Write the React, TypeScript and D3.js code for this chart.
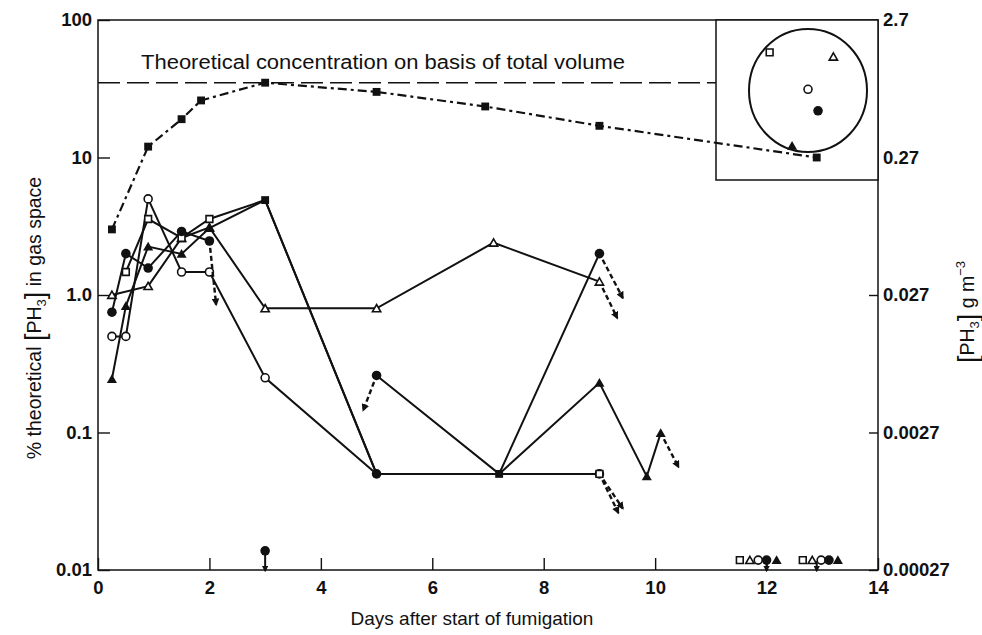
import React, { useEffect, useRef } from 'react'
import * as d3 from 'd3'

// axes
const xTicks = [0, 2, 4, 6, 8, 10, 12, 14]
const leftTicks = [0.01, 0.1, 1, 10, 100]
const leftLabels = ['0.01', '0.1', '1.0', '10', '100']
const rightTicks = [0.00027, 0.0027, 0.027, 0.27, 2.7]
const rightLabels = ['0.00027', '0.0027', '0.027', '0.27', '2.7']

const theoretical = 35

// dash-dot reference series (filled squares)
const refDays = [0.25, 0.9, 1.5, 1.85, 3.0, 5.0, 6.95, 9.0, 12.9]
const refValues = [3.0, 12, 19, 26, 35, 30, 23.5, 17, 10]

// sampling points (solid lines), null = break
const openCircleDays = [0.25, 0.5, 0.9, 1.5, 2.0, 3.0, 5.0, 7.2, 9.0]
const openCircleValues = [0.5, 0.5, 5.0, 1.47, 1.47, 0.25, 0.05, 0.05, 0.05]

const openTriangleDays = [0.25, 0.9, 1.5, 2.0, 3.0, 5.0, 7.1, 9.0]
const openTriangleValues = [1.0, 1.16, 2.6, 3.1, 0.8, 0.8, 2.4, 1.25]

const openSquareDays = [0.5, 0.9, 1.5, 2.0, 3.0, 5.0, 7.2, 9.0]
const openSquareValues = [1.47, 3.57, 2.6, 3.57, 4.9, 0.05, 0.05, 0.05]

const filledCircleDays = [0.25, 0.5, 0.9, 1.5, 2.0, 3.0, 5.0, 7.2, 9.0]
const filledCircleValues = [0.75, 2.0, 1.57, 2.9, 2.47, null, 0.26, 0.05, 2.0]

const filledTriangleDays = [0.25, 0.5, 0.9, 1.5, 2.0, 3.0, 5.0, 7.2, 9.0, 9.85, 10.1]
const filledTriangleValues = [0.245, 0.83, 2.25, 1.99, 3.07, 4.9, 0.05, 0.05, 0.23, 0.048, 0.099]

// coincident points drawn with a single marker
const coincidentDays = [3.0, 5.0, 7.2]
const coincidentValues = [4.9, 0.05, 0.05]
const coincidentShapes = ['filledSquare', 'filledCircle', 'filledSquare']

// dashed arrows (fall below detection)
const arrowFromDays = [2.0, 5.0, 9.0, 9.0, 10.1, 9.0, 9.0]
const arrowFromValues = [2.47, 0.26, 2.0, 1.25, 0.099, 0.05, 0.05]
const arrowToDays = [2.12, 4.76, 9.42, 9.32, 10.42, 9.42, 9.34]
const arrowToValues = [0.85, 0.145, 0.95, 0.68, 0.056, 0.028, 0.026]

// below-detection markers along the bottom
const bdShapes = ['openSquare', 'openTriangle', 'openCircle', 'filledCircle', 'filledTriangle', 'openSquare', 'openTriangle', 'openCircle', 'filledCircle', 'filledTriangle', 'filledCircle']
const bdDays = [11.52, 11.7, 11.85, 12.0, 12.18, 12.65, 12.82, 12.98, 13.12, 13.28, 3.0]
const bdValues = [0.0118, 0.0118, 0.0118, 0.0118, 0.0118, 0.0118, 0.0118, 0.0118, 0.0118, 0.0118, 0.0138]
const bdArrowDays = [3.0, 12.0, 12.9]
const bdArrowValues = [0.0134, 0.0116, 0.0116]

// inset: sampling positions in the cross-section (unit circle, y up)
const insetShapes = ['openSquare', 'openTriangle', 'openCircle', 'filledCircle', 'filledTriangle']
const insetX = [-0.65, 0.43, 0.0, 0.17, -0.27]
const insetY = [0.62, 0.55, 0.02, -0.33, -0.9]

const W = 982
const H = 635
const margin = { top: 20, right: 104, bottom: 65, left: 98 }
const font = '"Liberation Sans", Arial, Helvetica, sans-serif'

function drawMarker(g, shape, cx, cy) {
  const filled = shape.startsWith('filled')
  let type = d3.symbolCircle
  let size = 60
  if (shape.endsWith('Square')) { type = d3.symbolSquare; size = filled ? 62 : 46 }
  if (shape.endsWith('Triangle')) { type = d3.symbolTriangle; size = filled ? 44 : 30 }
  if (shape.endsWith('Circle')) { size = filled ? 72 : 50 }
  g.append('path')
    .attr('d', d3.symbol().type(type).size(size)())
    .attr('transform', `translate(${cx},${cy + (shape.endsWith('Triangle') ? 1 : 0)})`)
    .attr('fill', filled ? '#111' : '#fff')
    .attr('stroke', '#111')
    .attr('stroke-width', filled ? 0 : 1.6)
}

function App() {
  const ref = useRef(null)

  useEffect(() => {
    const svg = d3.select(ref.current)
    svg.selectAll('*').remove()

    const innerRight = W - margin.right
    const innerBottom = H - margin.bottom

    const x = d3.scaleLinear().domain([0, 14]).range([margin.left, innerRight])
    const y = d3.scaleLog().domain([0.01, 100]).range([innerBottom, margin.top])
    const yR = d3.scaleLog().domain([0.00027, 2.7]).range([innerBottom, margin.top])

    const defs = svg.append('defs')
    defs.append('marker')
      .attr('id', 'ah')
      .attr('viewBox', '0 0 10 10')
      .attr('refX', 8).attr('refY', 5)
      .attr('markerWidth', 3.2).attr('markerHeight', 3.2)
      .attr('orient', 'auto')
      .append('path').attr('d', 'M0,0 L10,5 L0,10 z').attr('fill', '#111')

    // frame
    svg.append('rect')
      .attr('x', margin.left).attr('y', margin.top)
      .attr('width', innerRight - margin.left).attr('height', innerBottom - margin.top)
      .attr('fill', 'none').attr('stroke', '#111').attr('stroke-width', 1.5)

    // axes
    const styleAxis = (sel) => {
      sel.select('.domain').remove()
      sel.selectAll('line').attr('stroke', '#111').attr('stroke-width', 1.4)
      sel.selectAll('text').attr('font-family', font).attr('font-size', 18.5).attr('font-weight', 'bold').attr('fill', '#111')
    }

    svg.append('g')
      .attr('transform', `translate(0,${innerBottom})`)
      .call(d3.axisBottom(x).tickValues(xTicks).tickSizeInner(-12).tickSizeOuter(0).tickPadding(11).tickFormat(d => String(d)))
      .call(styleAxis)

    svg.append('g')
      .attr('transform', `translate(${margin.left},0)`)
      .call(d3.axisLeft(y).tickValues(leftTicks).tickSizeInner(-12).tickSizeOuter(0).tickPadding(6)
        .tickFormat((d, i) => leftLabels[i]))
      .call(styleAxis)

    svg.append('g')
      .attr('transform', `translate(${innerRight},0)`)
      .call(d3.axisRight(yR).tickValues(rightTicks).tickSizeInner(-9).tickSizeOuter(0).tickPadding(5)
        .tickFormat((d, i) => rightLabels[i]))
      .call(styleAxis)

    // inset box
    const insetLeft = 716
    const insetBottom = 180
    svg.append('rect')
      .attr('x', insetLeft).attr('y', margin.top)
      .attr('width', innerRight - insetLeft).attr('height', insetBottom - margin.top)
      .attr('fill', '#fff').attr('stroke', '#111').attr('stroke-width', 1.5)

    // theoretical line
    svg.append('line')
      .attr('x1', margin.left).attr('x2', insetLeft)
      .attr('y1', y(theoretical)).attr('y2', y(theoretical))
      .attr('stroke', '#111').attr('stroke-width', 1.5).attr('stroke-dasharray', '22,7')

    svg.append('text')
      .attr('x', 141).attr('y', y(theoretical) - 14)
      .attr('textLength', 484).attr('lengthAdjust', 'spacingAndGlyphs')
      .attr('font-family', font).attr('font-size', 20).attr('fill', '#111')
      .text('Theoretical concentration on basis of total volume')

    // reference dash-dot series
    const line = d3.line()
      .defined(d => d[1] != null)
      .x(d => x(d[0]))
      .y(d => y(d[1]))

    const refPts = refDays.map((d, i) => [d, refValues[i]])
    svg.append('path')
      .attr('d', line(refPts))
      .attr('fill', 'none').attr('stroke', '#111').attr('stroke-width', 2.2)
      .attr('stroke-dasharray', '9,4,3,4')
    refPts.forEach(p => drawMarker(svg, 'filledSquare', x(p[0]), y(p[1])))

    const series = [
      { shape: 'openCircle', days: openCircleDays, values: openCircleValues },
      { shape: 'openTriangle', days: openTriangleDays, values: openTriangleValues },
      { shape: 'openSquare', days: openSquareDays, values: openSquareValues },
      { shape: 'filledCircle', days: filledCircleDays, values: filledCircleValues },
      { shape: 'filledTriangle', days: filledTriangleDays, values: filledTriangleValues },
    ]

    const isCoincident = (d, v) => coincidentDays.some((c, i) => c === d && coincidentValues[i] === v)

    series.forEach(s => {
      const pts = s.days.map((d, i) => [d, s.values[i]])
      svg.append('path')
        .attr('d', line(pts))
        .attr('fill', 'none').attr('stroke', '#111').attr('stroke-width', 2)
    })
    series.forEach(s => {
      s.days.forEach((d, i) => {
        const v = s.values[i]
        if (v != null && !isCoincident(d, v)) drawMarker(svg, s.shape, x(d), y(v))
      })
    })
    coincidentDays.forEach((d, i) => drawMarker(svg, coincidentShapes[i], x(d), y(coincidentValues[i])))

    // dashed arrows
    arrowFromDays.forEach((d, i) => {
      const x0 = x(d), y0 = y(arrowFromValues[i])
      const x1 = x(arrowToDays[i]), y1 = y(arrowToValues[i])
      const len = Math.hypot(x1 - x0, y1 - y0)
      const off = 7
      svg.append('line')
        .attr('x1', x0 + (x1 - x0) * off / len).attr('y1', y0 + (y1 - y0) * off / len)
        .attr('x2', x1).attr('y2', y1)
        .attr('stroke', '#111').attr('stroke-width', 2.4).attr('stroke-dasharray', '5,3')
        .attr('marker-end', 'url(#ah)')
    })

    // below detection markers
    bdDays.forEach((d, i) => drawMarker(svg, bdShapes[i], x(d), y(bdValues[i])))
    bdArrowDays.forEach((d, i) => {
      svg.append('line')
        .attr('x1', x(d)).attr('x2', x(d))
        .attr('y1', y(bdArrowValues[i])).attr('y2', innerBottom + 1)
        .attr('stroke', '#111').attr('stroke-width', 2)
        .attr('marker-end', 'url(#ah)')
    })

    // inset cross-section
    const cx = d3.scaleLinear().domain([-1, 1]).range([749, 867])
    const cy = d3.scaleLinear().domain([-1, 1]).range([152, 29])
    svg.append('ellipse')
      .attr('cx', cx(0)).attr('cy', cy(0))
      .attr('rx', cx(1) - cx(0)).attr('ry', cy(-1) - cy(0))
      .attr('fill', 'none').attr('stroke', '#111').attr('stroke-width', 2)
    insetShapes.forEach((s, i) => drawMarker(svg, s, cx(insetX[i]), cy(insetY[i])))

    // axis titles
    svg.append('text')
      .attr('x', (margin.left + innerRight) / 2 - 16).attr('y', 625)
      .attr('text-anchor', 'middle')
      .attr('font-family', font).attr('font-size', 19).attr('fill', '#111')
      .text('Days after start of fumigation')

    const lt = svg.append('text')
      .attr('transform', 'translate(41,318) rotate(-90)')
      .attr('text-anchor', 'middle')
      .attr('font-family', font).attr('font-size', 19.5).attr('fill', '#111')
    lt.append('tspan').text('% theoretical ')
    lt.append('tspan').attr('font-size', 27).attr('dy', 3).text('[')
    lt.append('tspan').attr('dy', -3).text('PH')
    lt.append('tspan').attr('font-size', 13).attr('dy', 5).text('3')
    lt.append('tspan').attr('font-size', 27).attr('dy', -2).text(']')
    lt.append('tspan').attr('dy', -3).text(' in gas space')

    const rt = svg.append('text')
      .attr('transform', 'translate(974,312) rotate(-90)')
      .attr('text-anchor', 'middle')
      .attr('font-family', font).attr('font-size', 19.5).attr('fill', '#111')
    rt.append('tspan').attr('font-size', 27).attr('dy', 3).text('[')
    rt.append('tspan').attr('dy', -3).text('PH')
    rt.append('tspan').attr('font-size', 13).attr('dy', 5).text('3')
    rt.append('tspan').attr('font-size', 27).attr('dy', -2).text(']')
    rt.append('tspan').attr('dy', -3).text(' g m')
    rt.append('tspan').attr('font-size', 13).attr('dy', -9).text('\u22123')
  }, [])

  return (
    <svg ref={ref} width={W} height={H}
      style={{ position: 'absolute', left: 0, top: 0, background: '#fff' }} />
  )
}

export default App
